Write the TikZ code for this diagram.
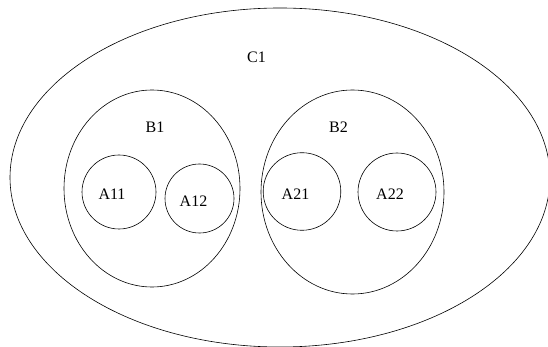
\documentclass[tikz,border=0pt]{standalone}
\usepackage{fontspec}
\setmainfont{Liberation Serif}
\usetikzlibrary{positioning}
\tikzset{setline/.style={line width=0.6pt},
	setname/.style={font=\fontsize{16}{19}\selectfont, inner sep=0pt}}

\begin{document}
\begin{tikzpicture}[x=1pt,y=-1pt]
		\useasboundingbox (0,0) rectangle (548,347);
		\clip (0,0) rectangle (548,347);
		% outer set
		\draw[setline] (280,177.5) ellipse [x radius=270, y radius=169.5];
		\node[setname] (c1) at (256.5,57) {C1};
		% B sets
		\draw[setline] (152,188.5) ellipse [x radius=88, y radius=98.5];
		\draw[setline] (352.5,192) ellipse [x radius=91.5, y radius=102];
		\node[setname] (b1) at (155,127) {B1};
		\node[setname] (b2) at (338.5,127) {B2};
		% A sets
		\draw[setline] (119,192) circle [radius=37];
		\draw[setline] (199.5,198.5) circle [radius=34.5];
		\draw[setline] (302,191.5) circle [radius=38.8];
		\draw[setline] (397,192) circle [radius=39];
		\node[setname] (a11) at (112,194) {A11};
		\node[setname] (a12) at (193.5,201) {A12};
		\node[setname] (a21) at (295.5,194) {A21};
		\node[setname] (a22) at (390,194) {A22};
\end{tikzpicture}
\end{document}
